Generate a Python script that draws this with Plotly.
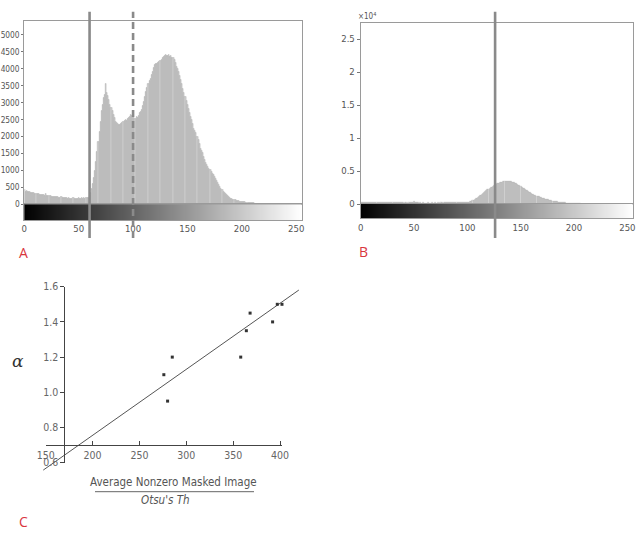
import plotly.graph_objects as go

W, H = 642, 536

# ---------------- data ----------------
bins = list(range(256))

hist_a_counts = [
    440, 380, 400, 370, 360, 380, 350, 340, 345, 330, 325, 320, 300, 310, 290, 295,
    280, 270, 285, 260, 310, 260, 250, 240, 255, 230, 235, 220, 225, 215, 210, 220,
    200, 205, 210, 195, 190, 200, 185, 190, 180, 185, 175, 180, 170, 185, 175, 170,
    180, 175, 185, 170, 175, 190, 180, 185, 175, 195, 185, 200, 260, 330, 450, 600,
    780, 1000, 1250, 1550, 1850, 2150, 2450, 2750, 2950, 3150, 3250, 3550, 3300, 3200, 3100, 2950,
    2850, 2750, 2650, 2550, 2450, 2400, 2380, 2340, 2360, 2390, 2420, 2450, 2470, 2500, 2480, 2530,
    2550, 2600, 2640, 2620, 2600, 2560, 2530, 2580, 2560, 2620, 2690, 2730, 2800, 2900, 3030, 3180,
    3330, 3450, 3570, 3650, 3720, 3820, 3920, 4020, 4110, 4140, 4160, 4190, 4210, 4250, 4280, 4330,
    4360, 4390, 4430, 4400, 4380, 4420, 4360, 4380, 4340, 4320, 4280, 4180, 4060, 3990, 3920, 3800,
    3670, 3550, 3420, 3300, 3180, 3050, 2930, 2810, 2690, 2590, 2490, 2370, 2240, 2170, 2100, 2000,
    1900, 1780, 1650, 1580, 1510, 1410, 1310, 1230, 1160, 1110, 1060, 1010, 965, 915, 865, 820,
    770, 700, 640, 580, 520, 470, 420, 380, 345, 310, 275, 250, 225, 200, 177, 160,
    148, 138, 128, 112, 98, 92, 89, 84, 79, 75, 70, 66, 62, 58, 54, 50,
    46, 43, 40, 36, 32, 28, 24, 20, 17, 14, 12, 10, 8, 7, 6, 5,
    4, 4, 3, 3, 2, 2, 2, 1, 1, 1, 1, 0, 0, 0, 0, 0,
    0, 0, 0, 0, 0, 0, 0, 0, 0, 0, 0, 0, 0, 0, 0, 0,
]

hist_b_counts = [
    260, 250, 270, 240, 260, 250, 230, 260, 240, 250, 230, 250, 240, 220, 250, 230,
    240, 220, 230, 240, 220, 230, 210, 240, 220, 230, 210, 220, 200, 230, 210, 200,
    220, 190, 210, 200, 190, 210, 200, 190, 200, 180, 190, 200, 180, 190, 200, 220,
    260, 300, 340, 280, 240, 200, 190, 180, 190, 170, 180, 190, 170, 180, 170, 190,
    180, 170, 180, 190, 170, 180, 190, 180, 170, 190, 180, 190, 200, 180, 190, 200,
    190, 200, 210, 200, 190, 210, 200, 210, 220, 210, 220, 230, 220, 230, 240, 230,
    240, 250, 240, 250, 250, 260, 300, 350, 420, 500, 600, 700, 800, 920, 1040, 1150,
    1270, 1390, 1520, 1650, 1780, 1910, 2040, 2160, 2280, 2400, 2500, 2600, 2700, 2800, 2900, 2990,
    3070, 3140, 3200, 3260, 3310, 3350, 3380, 3400, 3420, 3430, 3440, 3420, 3400, 3370, 3330, 3280,
    3220, 3150, 3070, 2980, 2880, 2780, 2670, 2560, 2450, 2340, 2230, 2120, 2010, 1910, 1810, 1710,
    1620, 1530, 1450, 1370, 1300, 1230, 1160, 1100, 1040, 980, 920, 870, 820, 770, 720, 680,
    640, 600, 560, 520, 480, 450, 420, 390, 360, 330, 300, 280, 260, 240, 220, 200,
    185, 170, 155, 140, 125, 110, 100, 90, 80, 70, 62, 55, 48, 42, 36, 30,
    25, 20, 16, 13, 10, 8, 6, 5, 4, 3, 3, 2, 2, 1, 1, 1,
    0, 0, 0, 0, 0, 0, 0, 0, 0, 0, 0, 0, 0, 0, 0, 0,
    0, 0, 0, 0, 0, 0, 0, 0, 0, 0, 0, 0, 0, 0, 0, 0,
]

thr_a_solid = 60
thr_a_dashed = 100
thr_b_solid = 126

hist_x_ticks = [0, 50, 100, 150, 200, 250]
hist_a_yticks = [0, 500, 1000, 1500, 2000, 2500, 3000, 3500, 4000, 4500, 5000]
hist_b_yticks = [0, 5000, 10000, 15000, 20000, 25000]
hist_b_yticktext = ["0", "0.5", "1", "1.5", "2", "2.5"]

ratio_x = [276, 285, 280, 358, 364, 368, 392, 397, 402]
alpha_y = [1.10, 1.20, 0.95, 1.20, 1.35, 1.45, 1.40, 1.50, 1.50]
fit_x = [147.4, 420.0]
fit_y = [0.558, 1.581]

c_x_ticks = [150, 200, 250, 300, 350, 400]
c_y_ticks = [0.6, 0.8, 1.0, 1.2, 1.4, 1.6]

# ---------------- layout helpers ----------------
def fx(px):
    return px / W

def fy(py):
    return 1 - py / H

NARROW = "DejaVu Sans Condensed, Liberation Sans Narrow, Arial Narrow, Roboto, sans-serif"
TICK_FONT = dict(family=NARROW, size=9.5, color="#555555")
A_YTICK_FONT = dict(family=NARROW, size=8.3, color="#555555")
FRAME = "#9a9a9a"
RED = "#d9363e"
BAR_FILL = "#d0d0d0"
BAR_EDGE = "#959595"
THR_COLOR = "#8a8a8a"

fig = go.Figure()

gray_scale = [[0, "#000000"], [1, "#ffffff"]]

# ---- Panel A ----
fig.add_trace(go.Bar(x=bins, y=hist_a_counts, xaxis="x", yaxis="y",
                     marker=dict(color=BAR_FILL, line=dict(color=BAR_EDGE, width=0.3)),
                     showlegend=False, hoverinfo="skip"))
fig.add_trace(go.Heatmap(z=[bins], x=bins, y=[0.5], xaxis="x2", yaxis="y2",
                         colorscale=gray_scale, showscale=False, hoverinfo="skip"))

# ---- Panel B ----
fig.add_trace(go.Bar(x=bins, y=hist_b_counts, xaxis="x3", yaxis="y3",
                     marker=dict(color=BAR_FILL, line=dict(color=BAR_EDGE, width=0.3)),
                     showlegend=False, hoverinfo="skip"))
fig.add_trace(go.Heatmap(z=[bins], x=bins, y=[0.5], xaxis="x4", yaxis="y4",
                         colorscale=gray_scale, showscale=False, hoverinfo="skip"))

# ---- Panel C ----
C_X0_PX, C_X_PER = 45.7, 0.9376   # px of x=150, px per unit
C_Y0_PX, C_Y_PER = 462.7, 176.0   # px of y=0.6, px per unit

def cx(v):
    return C_X0_PX + (v - 150) * C_X_PER

def cy(v):
    return C_Y0_PX - (v - 0.6) * C_Y_PER

c_data_xr = [140, 425]
c_data_yr = [0.55, 1.62]
c_vis_xr = [150, 402]
c_vis_yr = [0.6, 1.6]

fig.add_trace(go.Scatter(x=fit_x, y=fit_y, xaxis="x5", yaxis="y5", mode="lines",
                         line=dict(color="#555555", width=1), showlegend=False, hoverinfo="skip"))
fig.add_trace(go.Scatter(x=ratio_x, y=alpha_y, xaxis="x6", yaxis="y6", mode="markers",
                         marker=dict(symbol="square", size=3, color="#333333"),
                         cliponaxis=False, showlegend=False, hoverinfo="skip"))

base = dict(showgrid=False, zeroline=False, automargin=False)
C_TICK_FONT = dict(family=NARROW, size=10.5, color="#666666")

layout = dict(
    width=W, height=H, autosize=False,
    margin=dict(l=0, r=0, t=0, b=0, autoexpand=False),
    paper_bgcolor="white", plot_bgcolor="rgba(0,0,0,0)",
    bargap=0, showlegend=False,
    xaxis=dict(domain=[fx(24.3), fx(301.7)], range=[0, 255], anchor="y",
               showticklabels=False, ticks="", showline=True, mirror=True,
               linecolor=FRAME, linewidth=1, **base),
    yaxis=dict(domain=[fy(204.3), fy(20.7)], range=[0, 5420], anchor="x",
               tickvals=hist_a_yticks, ticks="outside", ticklen=2, tickcolor="#777777",
               tickfont=A_YTICK_FONT, showline=True, mirror=True, linecolor=FRAME, linewidth=1,
               **base),
    xaxis2=dict(domain=[fx(24.3), fx(301.7)], range=[0, 255], anchor="y2",
                tickvals=hist_x_ticks, ticks="", tickfont=TICK_FONT,
                showline=True, mirror=True, linecolor=FRAME, linewidth=1, **base),
    yaxis2=dict(domain=[fy(220), fy(204.3)], range=[0, 1], anchor="x2",
                showticklabels=False, ticks="", showline=True, mirror=True,
                linecolor=FRAME, linewidth=1, **base),
    xaxis3=dict(domain=[fx(360.7), fx(632.7)], range=[0, 255], anchor="y3",
                showticklabels=False, ticks="", showline=True, mirror=True,
                linecolor=FRAME, linewidth=1, **base),
    yaxis3=dict(domain=[fy(204), fy(23.3)], range=[0, 27400], anchor="x3",
                tickvals=hist_b_yticks, ticktext=hist_b_yticktext, ticks="outside", ticklen=3,
                tickcolor="#777777", tickfont=TICK_FONT, showline=True, mirror=True,
                linecolor=FRAME, linewidth=1, **base),
    xaxis4=dict(domain=[fx(360.7), fx(632.7)], range=[0, 255], anchor="y4",
                tickvals=hist_x_ticks, ticks="", tickfont=TICK_FONT,
                showline=True, mirror=True, linecolor=FRAME, linewidth=1, **base),
    yaxis4=dict(domain=[fy(218.3), fy(204)], range=[0, 1], anchor="x4",
                showticklabels=False, ticks="", showline=True, mirror=True,
                linecolor=FRAME, linewidth=1, **base),
    xaxis5=dict(domain=[fx(cx(c_data_xr[0])), fx(cx(c_data_xr[1]))], range=c_data_xr,
                anchor="y5", visible=False, automargin=False),
    yaxis5=dict(domain=[fy(cy(c_data_yr[0])), fy(cy(c_data_yr[1]))], range=c_data_yr,
                anchor="x5", visible=False, automargin=False),
    xaxis6=dict(domain=[fx(cx(c_vis_xr[0])), fx(cx(c_vis_xr[1]))], range=c_vis_xr,
                anchor="free", position=fy(cy(0.7)), tickvals=c_x_ticks,
                ticks="inside", ticklen=4, tickcolor="#444444", tickfont=C_TICK_FONT,
                showline=True, linecolor="#444444", linewidth=1, **base),
    yaxis6=dict(domain=[fy(cy(c_vis_yr[0])), fy(cy(c_vis_yr[1]))], range=c_vis_yr,
                anchor="free", position=fx(cx(170)), tickvals=c_y_ticks, tickformat=".1f",
                ticks="outside", ticklen=4, tickcolor="#444444", tickfont=C_TICK_FONT,
                showline=True, linecolor="#444444", linewidth=1, **base),
)
fig.update_layout(**layout)

def vline(xref, xval, dash):
    fig.add_shape(type="line", xref=xref, yref="paper", x0=xval, x1=xval,
                  y0=fy(238), y1=fy(11.7),
                  line=dict(color=THR_COLOR, width=2.6, dash=dash))

vline("x", thr_a_solid, "solid")
vline("x", thr_a_dashed, "7px,4px")
vline("x3", thr_b_solid, "solid")

fig.add_shape(type="line", xref="paper", yref="paper", x0=fx(95), x1=fx(254),
              y0=fy(491.7), y1=fy(491.7), line=dict(color="#666666", width=1))

def ann(text, px, py, size, color, family=NARROW, xanchor="center"):
    fig.add_annotation(text=text, x=fx(px), y=fy(py), xref="paper", yref="paper",
                       showarrow=False, xanchor=xanchor, yanchor="middle",
                       font=dict(size=size, color=color, family=family))

ann("×10<sup>4</sup>", 367, 16.5, 8, "#555555")
ann("A", 23.3, 252.3, 14, RED, family="Open Sans, sans-serif")
ann("B", 363.3, 251.7, 14, RED, family="Open Sans, sans-serif")
ann("C", 23.3, 521, 14, RED, family="Open Sans, sans-serif")
ann("Average Nonzero Masked Image", 174, 482.3, 11.5, "#555555")
ann("<i>Otsu's Th</i>", 166, 500, 11.5, "#555555")
ann("<i>α</i>", 18.3, 360.7, 17, "#333333", family="DejaVu Serif, serif")

fig.write_html("out.html", config={"displayModeBar": False},
               post_script="document.body.style.margin='0px';document.body.style.padding='0px';")
